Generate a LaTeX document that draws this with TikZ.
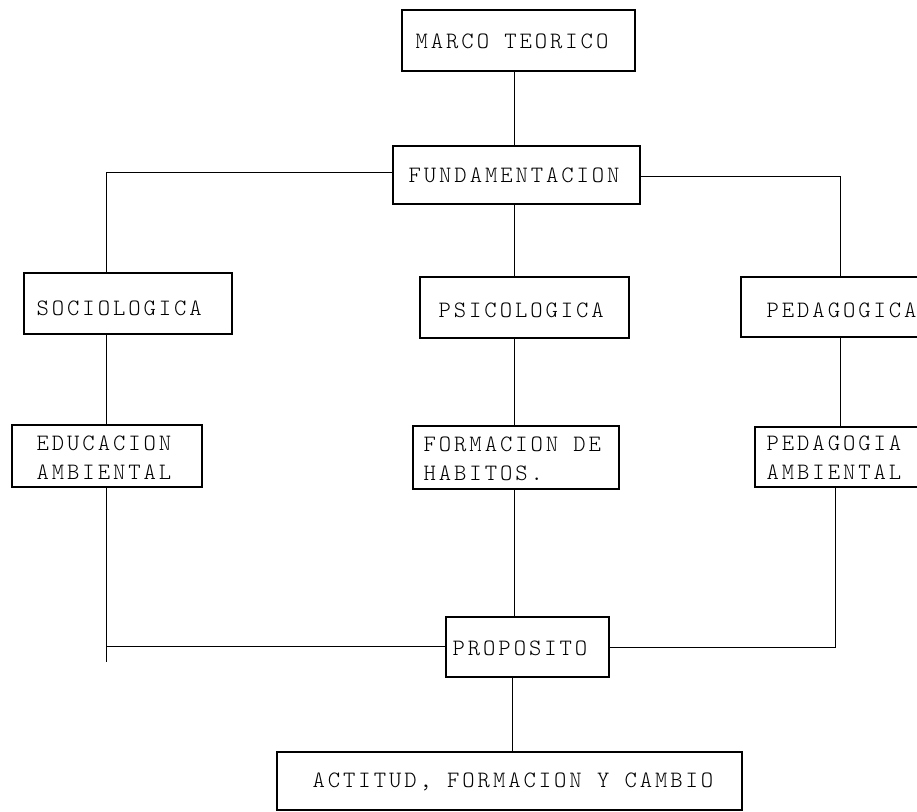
\documentclass[tikz,border=0pt]{standalone}
\usepackage{fontspec}
\newfontfamily\plotfont{lmmonolt10-regular.otf}[LetterSpace=12.5]
\usetikzlibrary{calc}
\begin{document}
\begin{tikzpicture}[x=1pt,y=-1pt,
  box/.style={draw=black, line width=1.1pt, rectangle, inner sep=0pt},
  lbl/.style={anchor=west, inner sep=0pt, align=left, font=\plotfont\fontsize{23.5}{29}\selectfont},
  link/.style={draw=black, line width=0.9pt}]
\fill[white] (0,0) rectangle (917,811);
\path[use as bounding box, clip] (0,0) rectangle (917,811);
% boxes
\node[box, minimum width=233pt, minimum height=61pt] (marco) at (518.5,40.5) {};
\node[lbl] (tmarco) at ($(marco.west)+(14,1)$) {MARCO TEORICO};
\node[box, minimum width=247pt, minimum height=58pt] (fund) at (516.5,175) {};
\node[lbl] (tfund) at ($(fund.west)+(16,0.5)$) {FUNDAMENTACION};
\node[box, minimum width=208pt, minimum height=61pt] (socio) at (128,303.5) {};
\node[lbl] (tsocio) at ($(socio.west)+(13,5)$) {SOCIOLOGICA};
\node[box, minimum width=209pt, minimum height=61pt] (psico) at (524.5,307.5) {};
\node[lbl] (tpsico) at ($(psico.west)+(19,3)$) {PSICOLOGICA};
\node[box, minimum width=219pt, minimum height=60pt] (pedg) at (850.5,307) {};
\node[lbl] (tpedg) at ($(pedg.west)+(26,3)$) {PEDAGOGICA};
\node[box, minimum width=190pt, minimum height=62pt] (educ) at (107,456) {};
\node[lbl] (teduc) at ($(educ.west)+(25,1.5)$) {EDUCACION\\AMBIENTAL};
\node[box, minimum width=206pt, minimum height=63pt] (form) at (516,457.5) {};
\node[lbl] (tform) at ($(form.west)+(11,1)$) {FORMACION DE\\HABITOS.};
\node[box, minimum width=205pt, minimum height=60pt] (pedga) at (857.5,457) {};
\node[lbl] (tpedga) at ($(pedga.west)+(12,1)$) {PEDAGOGIA\\AMBIENTAL};
\node[box, minimum width=163pt, minimum height=60pt] (prop) at (527.5,647) {};
\node[lbl] (tprop) at ($(prop.west)+(7,1)$) {PROPOSITO};
\node[box, minimum width=465pt, minimum height=58pt] (act) at (509.5,781) {};
\node[lbl] (tact) at ($(act.west)+(36,0.5)$) {ACTITUD, FORMACION Y CAMBIO};
% connectors
\coordinate (mx) at (514,0);
\coordinate (mx2) at (512,0);
\draw[link] (mx |- marco.south) -- (mx |- fund.north);
\draw[link] (mx |- fund.south) -- (mx |- psico.north);
\draw[link] (mx |- psico.south) -- (mx |- form.north);
\draw[link] (mx |- form.south) -- (mx |- prop.north);
\draw[link] (mx2 |- prop.south) -- (mx2 |- act.north);
\coordinate (tl) at (106,172);
\draw[link] (tl -| fund.west) -- (tl) -- (tl |- socio.north);
\draw[link] (tl |- socio.south) -- (tl |- educ.north);
\coordinate (bl) at (106,646);
\coordinate (blend) at (106,662);
\draw[link] (bl |- educ.south) -- (blend);
\draw[link] (bl) -- (bl -| prop.west);
\coordinate (tr) at (840,176);
\draw[link] (tr -| fund.east) -- (tr) -- (tr |- pedg.north);
\draw[link] (tr |- pedg.south) -- (tr |- pedga.north);
\coordinate (br) at (835,647);
\draw[link] (br |- pedga.south) -- (br) -- (br -| prop.east);
\end{tikzpicture}
\end{document}
